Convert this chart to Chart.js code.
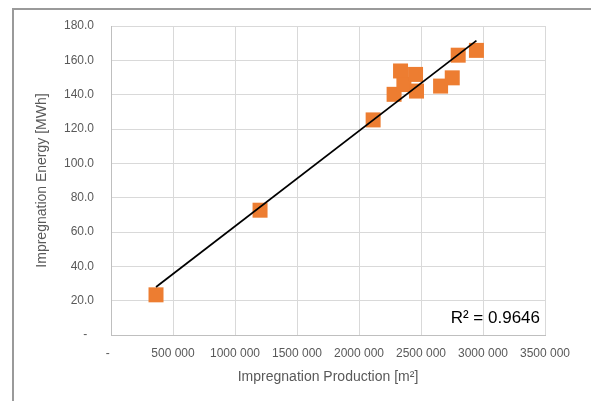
<!DOCTYPE html>
<html>
<head>
<meta charset="utf-8">
<script src="https://cdn.jsdelivr.net/npm/chart.js@4/dist/chart.umd.min.js"></script>
<style>
  html, body { margin: 0; padding: 0; background: #fff; }
  #wrap { position: relative; width: 591px; height: 401px; overflow: hidden; }
  #c { position: absolute; left: 0; top: 0; }
  #frame { position: absolute; left: 12px; top: 8px; width: 700px; height: 500px;
           border: 2px solid #9a9a9a; pointer-events: none; }
</style>
</head>
<body>
<div id="wrap">
  <canvas id="c" width="591" height="401"></canvas>
  <div id="frame"></div>
</div>
<script>
// Impregnation line: yearly production (m²) against energy use (MWh)
const production = [363000, 1202000, 2114000, 2283000, 2335000, 2362000, 2456000, 2464000, 2658000, 2752000, 2800000, 2947000];
const energy = [23.4, 72.7, 125.3, 140.2, 153.8, 145.9, 151.8, 142.1, 145.0, 149.8, 163.0, 165.8];
const rSquaredLabel = 'R\u00B2 = 0.9646';
const xTitle = 'Impregnation Production [m\u00B2]';
const yTitle = 'Impregnation Energy [MWh]';

const points = production.map((x, i) => ({ x: x, y: energy[i] }));

// least-squares trend line across the measured range
const n = production.length;
const mx = production.reduce((a, b) => a + b, 0) / n;
const my = energy.reduce((a, b) => a + b, 0) / n;
let sxy = 0, sxx = 0;
for (let i = 0; i < n; i++) {
  sxy += (production[i] - mx) * (energy[i] - my);
  sxx += (production[i] - mx) * (production[i] - mx);
}
const slope = sxy / sxx;
const intercept = my - slope * mx;
const xMin = Math.min(...production), xMax = Math.max(...production);
const trend = [
  { x: xMin, y: intercept + slope * xMin },
  { x: xMax, y: intercept + slope * xMax }
];

function fmtThousands(v) {
  if (v === 0) return '-  ';
  const hi = Math.floor(v / 1000);
  const lo = String(v % 1000).padStart(3, '0');
  return hi + ' ' + lo;
}

const tickFont = { family: "'Liberation Sans', Arial, sans-serif", size: 12 };
const titleFont = { family: "'Liberation Sans', Arial, sans-serif", size: 14 };

const rSquaredText = {
  id: 'rSquaredText',
  afterDatasetsDraw(chart) {
    const { ctx, chartArea } = chart;
    ctx.save();
    ctx.font = "17px 'Liberation Sans', Arial, sans-serif";
    ctx.fillStyle = '#000';
    ctx.textAlign = 'right';
    ctx.textBaseline = 'middle';
    ctx.fillText(rSquaredLabel, chartArea.right - 5, chartArea.bottom - 17);
    ctx.restore();
  }
};

new Chart(document.getElementById('c'), {
  type: 'scatter',
  data: {
    datasets: [
      {
        type: 'line',
        data: trend,
        borderColor: '#000000',
        borderWidth: 1.75,
        pointRadius: 0,
        fill: false,
        order: 0
      },
      {
        data: points,
        pointStyle: 'rect',
        pointRadius: 10.6,
        pointHoverRadius: 10.6,
        backgroundColor: '#ED7D31',
        borderColor: '#ED7D31',
        borderWidth: 0,
        order: 1
      }
    ]
  },
  options: {
    responsive: false,
    animation: false,
    events: [],
    layout: { padding: { top: 26, right: 46, left: 0, bottom: 0 } },
    plugins: { legend: { display: false }, tooltip: { enabled: false } },
    scales: {
      x: {
        type: 'linear',
        min: 0,
        max: 3500000,
        afterFit(s) { s.height = 66; },
        ticks: {
          stepSize: 500000,
          padding: 11,
          color: '#595959',
          font: tickFont,
          maxRotation: 0,
          autoSkip: false,
          callback: v => fmtThousands(v)
        },
        grid: { color: '#d9d9d9', lineWidth: 1, drawTicks: false },
        border: { display: true, color: '#bfbfbf', width: 1 },
        title: {
          display: true,
          text: xTitle,
          color: '#595959',
          font: titleFont,
          padding: { top: 0, bottom: 15.6 }
        }
      },
      y: {
        type: 'linear',
        min: 0,
        max: 180,
        afterFit(s) { s.width = 111; },
        ticks: {
          stepSize: 20,
          padding: 17,
          color: '#595959',
          font: tickFont,
          callback: v => (v === 0 ? '-  ' : v.toFixed(1))
        },
        grid: { color: '#d9d9d9', lineWidth: 1, drawTicks: false },
        border: { display: true, color: '#bfbfbf', width: 1 },
        title: {
          display: true,
          text: yTitle,
          color: '#595959',
          font: titleFont,
          padding: { top: 34, bottom: 0 }
        }
      }
    }
  },
  plugins: [rSquaredText]
});
</script>
</body>
</html>
